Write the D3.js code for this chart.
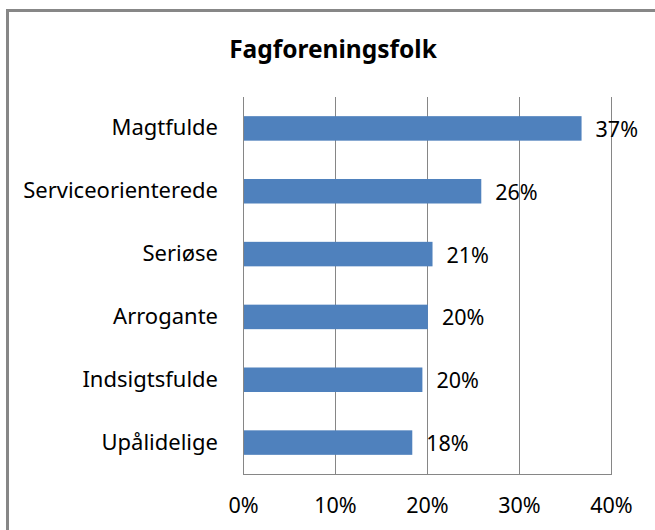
<!DOCTYPE html>
<html>
<head>
<meta charset="utf-8">
<script src="https://cdn.jsdelivr.net/npm/d3@7"></script>
<style>
  body { margin: 0; background: #fff; }
  text { font-family: "Noto Sans", "Open Sans", sans-serif; fill: #000; }
</style>
</head>
<body>
<div id="chart"></div>
<script>
// chart data
var title = "Fagforeningsfolk";
var categories = ["Magtfulde", "Serviceorienterede", "Seriøse", "Arrogante", "Indsigtsfulde", "Upålidelige"];
var values = [0.368, 0.259, 0.206, 0.201, 0.195, 0.184];
var valueLabels = ["37%", "26%", "21%", "20%", "20%", "18%"];
var ticks = [0, 0.1, 0.2, 0.3, 0.4];

var width = 655, height = 530;
var margin = {top: 97, right: 44, bottom: 56, left: 243};

var svg = d3.select("#chart")
    .append("svg")
    .attr("width", width)
    .attr("height", height);

// outer chart frame (only top and left visible in the crop)
svg.append("path")
    .attr("d", "M7.5," + height + "V10.5H" + width)
    .attr("fill", "none")
    .attr("stroke", "#878787")
    .attr("stroke-width", 3);

svg.append("text")
    .attr("x", 333)
    .attr("y", 58)
    .attr("text-anchor", "middle")
    .style("font-size", "24.5px")
    .style("font-weight", "bold")
    .text(title);

var x = d3.scaleLinear()
    .domain([0, 0.4])
    .range([margin.left, width - margin.right]);

var y = d3.scaleBand()
    .domain(categories)
    .range([margin.top, height - margin.bottom])
    .paddingInner(0.61)
    .paddingOuter(0.305);

// gridlines
svg.append("g")
    .selectAll("line")
    .data(ticks)
    .enter().append("line")
    .attr("x1", function (d) { return Math.round(x(d)) + 0.5; })
    .attr("x2", function (d) { return Math.round(x(d)) + 0.5; })
    .attr("y1", margin.top)
    .attr("y2", height - margin.bottom)
    .attr("stroke", "#868686");

// bottom axis line
svg.append("line")
    .attr("x1", x(0))
    .attr("x2", x(0.4) + 1)
    .attr("y1", height - margin.bottom + 0.5)
    .attr("y2", height - margin.bottom + 0.5)
    .attr("stroke", "#868686");

// x tick labels
var xAxis = d3.axisBottom(x)
    .tickValues(ticks)
    .tickFormat(d3.format(".0%"))
    .tickSize(0)
    .tickPadding(24);

var gx = svg.append("g")
    .attr("transform", "translate(0," + (height - margin.bottom) + ")")
    .call(xAxis);
gx.select(".domain").remove();
gx.selectAll("text")
    .style("font-size", "21.5px")
    .attr("fill", "#000");

// category labels
var yAxis = d3.axisLeft(y).tickSize(0).tickPadding(25);
var gy = svg.append("g")
    .attr("transform", "translate(" + margin.left + ",0)")
    .call(yAxis);
gy.select(".domain").remove();
gy.selectAll("text")
    .style("font-size", "22px")
    .attr("fill", "#000");

// bars
svg.append("g")
    .selectAll("rect")
    .data(categories)
    .enter().append("rect")
    .attr("x", x(0) + 1)
    .attr("y", function (d) { return y(d); })
    .attr("width", function (d, i) { return x(values[i]) - x(0) - 1; })
    .attr("height", y.bandwidth())
    .attr("fill", "#4F81BD");

// value labels
svg.append("g")
    .selectAll("text")
    .data(categories)
    .enter().append("text")
    .attr("x", function (d, i) { return x(values[i]) + 14; })
    .attr("y", function (d) { return y(d) + y.bandwidth() / 2 + 1; })
    .attr("dy", "0.35em")
    .style("font-size", "21.5px")
    .text(function (d, i) { return valueLabels[i]; });
</script>
</body>
</html>
